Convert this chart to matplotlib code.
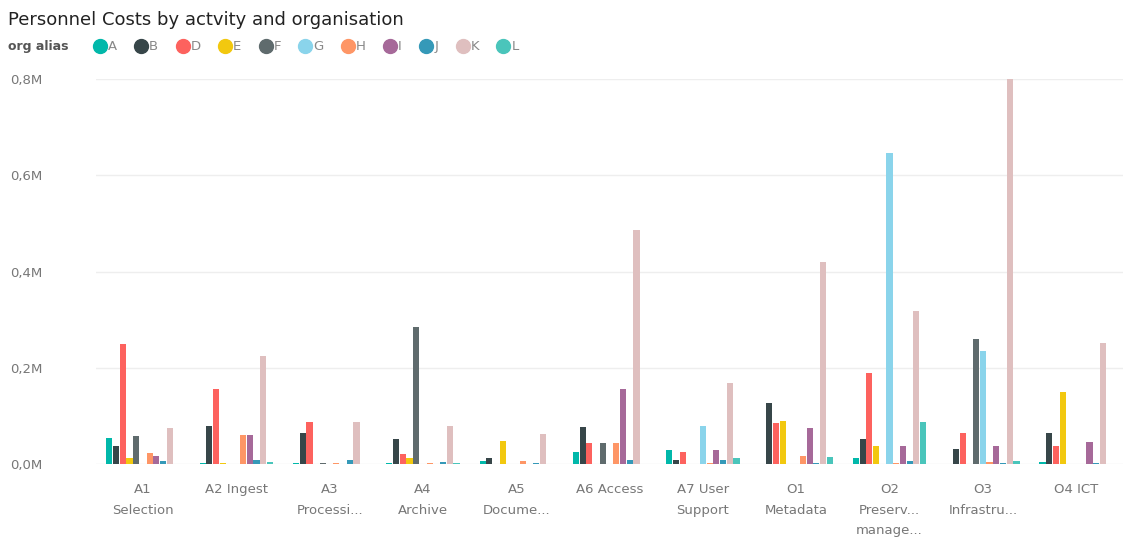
import numpy as np
import matplotlib
matplotlib.use("Agg")
import matplotlib.pyplot as plt
from matplotlib.lines import Line2D
from matplotlib.ticker import FuncFormatter

activities = ["A1\nSelection", "A2 Ingest", "A3\nProcessi...", "A4\nArchive", "A5\nDocume...",
              "A6 Access", "A7 User\nSupport", "O1\nMetadata", "O2\nPreserv...\nmanage...",
              "O3\nInfrastru...", "O4 ICT"]
orgs = ["A", "B", "D", "E", "F", "G", "H", "I", "J", "K", "L"]
colors = ["#01B8AA", "#374649", "#FD625E", "#F2C80F", "#5F6B6D", "#8AD4EB",
          "#FE9666", "#A66999", "#3599B8", "#DFBFBF", "#4AC5BB"]

# values in millions, one list per org (order follows activities)
A = [0.054, 0.003, 0.003, 0.003, 0.006, 0.024, 0.029, 0.0, 0.013, 0.0, 0.005]
B = [0.037, 0.080, 0.064, 0.051, 0.013, 0.076, 0.008, 0.127, 0.053, 0.031, 0.065]
D = [0.250, 0.156, 0.088, 0.021, 0.0, 0.043, 0.024, 0.085, 0.190, 0.064, 0.037]
E = [0.012, 0.002, 0.0, 0.013, 0.048, 0.0, 0.0, 0.089, 0.038, 0.0, 0.150]
F = [0.058, 0.0, 0.002, 0.285, 0.0, 0.043, 0.0, 0.0, 0.0, 0.259, 0.0]
G = [0.0, 0.0, 0.0, 0.0, 0.0, 0.0, 0.080, 0.0, 0.647, 0.235, 0.0]
H = [0.023, 0.060, 0.002, 0.002, 0.006, 0.044, 0.002, 0.017, 0.002, 0.005, 0.0]
I = [0.017, 0.060, 0.0, 0.0, 0.0, 0.155, 0.029, 0.075, 0.037, 0.037, 0.045]
J = [0.006, 0.008, 0.008, 0.005, 0.003, 0.008, 0.008, 0.003, 0.006, 0.002, 0.002]
K = [0.075, 0.225, 0.088, 0.080, 0.062, 0.487, 0.168, 0.420, 0.317, 0.800, 0.252]
L = [0.0, 0.005, 0.0, 0.002, 0.0, 0.0, 0.013, 0.014, 0.088, 0.006, 0.0]
series = [A, B, D, E, F, G, H, I, J, K, L]

fig = plt.figure(figsize=(11.33, 5.38), dpi=100)
ax = fig.add_axes([0.085, 0.1375, 0.906, 0.7155])

x = np.arange(len(activities))
w = 0.072
for i, (vals, c) in enumerate(zip(series, colors)):
    ax.bar(x + (i - 5) * w, vals, width=w * 0.92, color=c, linewidth=0, zorder=3)

ax.set_xlim(-0.5, len(activities) - 0.5)
ax.set_ylim(0, 0.8)
ax.set_yticks([0, 0.2, 0.4, 0.6, 0.8])
ax.yaxis.set_major_formatter(FuncFormatter(lambda v, p: ("%.1fM" % v).replace(".", ",")))
ax.grid(axis="y", color="#eeeeee", linewidth=1, zorder=0)
for s in ax.spines.values():
    s.set_visible(False)
ax.tick_params(axis="both", length=0, colors="#777777", labelsize=9.5)
ax.tick_params(axis="y", pad=62)
for lab in ax.get_yticklabels():
    lab.set_horizontalalignment("left")
ax.set_xticks(x)
ax.set_xticklabels(activities, linespacing=1.75)
ax.tick_params(axis="x", pad=14)

fig.text(0.007, 0.963, "Personnel Costs by actvity and organisation", fontsize=13,
         color="#222222", va="center")
fig.text(0.007, 0.913, "org alias", fontsize=9, color="#555555", va="center", fontweight="bold")
handles = [Line2D([], [], marker="o", linestyle="none", markersize=10,
                  markerfacecolor=c, markeredgecolor=c) for c in colors]
fig.legend(handles, orgs, loc="center left", bbox_to_anchor=(0.081, 0.913), ncol=11,
           frameon=False, handletextpad=0.0, columnspacing=1.25, handlelength=1.2,
           borderaxespad=0, borderpad=0, labelcolor="#888888", fontsize=9.5)

fig.savefig("out.png", dpi=100)
